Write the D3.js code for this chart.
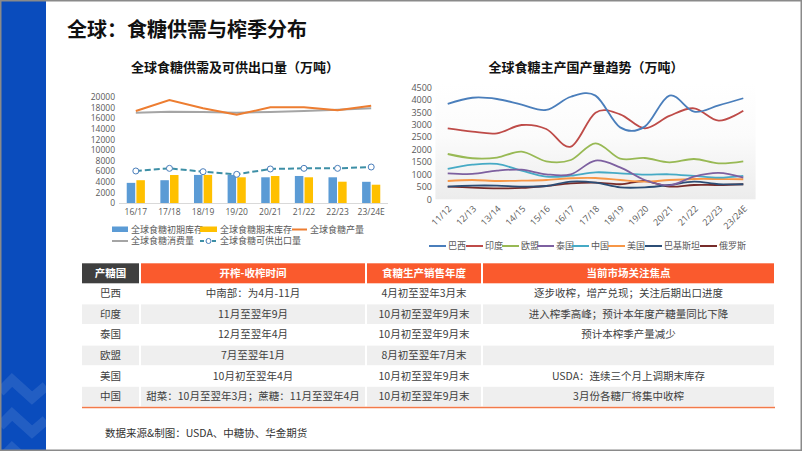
<!DOCTYPE html>
<html><head><meta charset="utf-8">
<script src="https://cdn.jsdelivr.net/npm/d3@7"></script>
<style>
body{margin:0;background:#fff;}
svg{display:block;font-family:"Noto Sans CJK SC","Noto Sans",sans-serif;}
</style>
</head><body><svg id="c" width="802" height="451"></svg>
<script>
// ---------- data ----------
const supplyCats = ["16/17","17/18","18/19","19/20","20/21","21/22","22/23","23/24E"];
const initStock  = [3800,4300,5300,5300,4850,5100,4850,4000];
const endStock   = [4300,5280,5300,4850,5090,4850,4020,3450];
const production = [17360,19430,17860,16660,18050,18050,17490,18360];
const consumption= [17040,17230,17170,17040,17170,17360,17610,17860];
const exportable = [6040,6540,5910,5410,6420,6540,6540,6790];
const supplyTicks = [0,2000,4000,6000,8000,10000,12000,14000,16000,18000,20000];

const prodYears = ["11/12","12/13","13/14","14/15","15/16","16/17","17/18","18/19","19/20","20/21","21/22","22/23","23/24E"];
const brazil   = [3830,4080,4030,3800,3590,4120,4165,2890,2920,4165,3520,3775,4060];
const india    = [2850,2720,2650,2985,2825,2115,3480,3415,2850,3350,3655,3160,3560];
const eu       = [1820,1650,1675,1915,1525,1580,2250,1635,1660,1485,1620,1445,1525];
const thailand = [1045,1020,1150,1190,1005,1005,1555,1285,775,560,910,1060,870];
const china    = [1220,1390,1420,1150,910,950,1085,1045,990,1005,940,870,940];
const usa      = [735,775,735,750,775,845,855,775,710,775,815,815,805];
const pakistan = [510,550,550,510,535,710,670,480,480,575,710,605,605];
const russia   = [510,470,440,455,535,640,670,605,735,510,575,575,605];
const prodTicks = [0,500,1000,1500,2000,2500,3000,3500,4000,4500];
const prodNames = ["巴西","印度","欧盟","泰国","中国","美国","巴基斯坦","俄罗斯"];

const tblHeaders = ["产糖国","开榨-收榨时间","食糖生产销售年度","当前市场关注焦点"];
const tblCountry = ["巴西","印度","泰国","欧盟","美国","中国"];
const tblHarvest = ["中南部：为4月-11月","11月至翌年9月","12月至翌年4月","7月至翌年1月","10月初至翌年4月","甜菜：10月至翌年3月；蔗糖：11月至翌年4月"];
const tblSeason  = ["4月初至翌年3月末","10月初至翌年9月末","10月初至翌年9月末","8月初至翌年7月末","10月初至翌年9月末","10月初至翌年9月末"];
const tblFocus   = ["逐步收榨，增产兑现；关注后期出口进度","进入榨季高峰；预计本年度产糖量同比下降","预计本榨季产量减少","","USDA：连续三个月上调期末库存","3月份各糖厂将集中收榨"];

// ---------- frame ----------
const svg = d3.select("#c");
svg.append("rect").attr("x",0).attr("y",0).attr("width",802).attr("height",451).attr("fill","#fff");
svg.append("rect").attr("x",0).attr("y",0).attr("width",46).attr("height",451).attr("fill","#0a4cbd");
const chev = svg.append("g").attr("fill","none").attr("stroke","#ffffff").attr("stroke-opacity",0.1).attr("stroke-width",10);
[0,34,68].forEach(o=>{
  chev.append("polyline").attr("points",`0,${392+o} 12,${380+o} 32,${398+o} 46,${386+o}`);
});
svg.append("rect").attr("x",0.75).attr("y",0.75).attr("width",800.5).attr("height",449.5)
  .attr("fill","none").attr("stroke","#8a8a8a").attr("stroke-width",1.5);

svg.append("text").attr("x",67).attr("y",37).attr("font-size",20).attr("font-weight",700)
  .attr("fill","#111").text("全球：食糖供需与榨季分布");

// ---------- left chart ----------
svg.append("text").attr("x",235).attr("y",72).attr("text-anchor","middle").attr("font-size",13)
  .attr("font-weight",700).attr("fill","#111").text("全球食糖供需及可供出口量（万吨）");

const xL = d3.scaleBand().domain(supplyCats).range([119,388]).paddingInner(0.46).paddingOuter(0.23);
const xS = d3.scaleBand().domain(["a","b"]).range([0,xL.bandwidth()]).paddingInner(0.12);
const yL = d3.scaleLinear().domain([0,20000]).range([203,97]);
const cx = c => xL(c)+xL.bandwidth()/2;

const gL = svg.append("g");
const yAxL = d3.axisLeft(yL).tickValues(supplyTicks).tickSize(0).tickPadding(0).tickFormat(d3.format("d"));
gL.append("g").attr("transform","translate(115,0)").call(yAxL)
  .call(g=>g.select(".domain").remove())
  .call(g=>g.selectAll("text").attr("font-size",8.5).attr("fill","#595959").attr("font-family","'Open Sans','Noto Sans',sans-serif"));
gL.append("line").attr("x1",119).attr("x2",388).attr("y1",203.5).attr("y2",203.5).attr("stroke","#d9d9d9");
const xAxL = d3.axisBottom(xL).tickSize(0).tickPadding(6);
gL.append("g").attr("transform","translate(0,203)").call(xAxL)
  .call(g=>g.select(".domain").remove())
  .call(g=>g.selectAll("text").attr("font-size",8.5).attr("fill","#595959").attr("font-family","'Open Sans','Noto Sans',sans-serif"));

supplyCats.forEach((c,i)=>{
  gL.append("rect").attr("x",xL(c)+xS("a")).attr("width",xS.bandwidth())
    .attr("y",yL(initStock[i])).attr("height",yL(0)-yL(initStock[i])).attr("fill","#5b9bd5");
  gL.append("rect").attr("x",xL(c)+xS("b")).attr("width",xS.bandwidth())
    .attr("y",yL(endStock[i])).attr("height",yL(0)-yL(endStock[i])).attr("fill","#ffc000");
});
const lineL = arr => d3.line().x((d,i)=>cx(supplyCats[i])).y(d=>yL(d))(arr);
gL.append("path").attr("d",lineL(consumption)).attr("fill","none").attr("stroke","#a5a5a5").attr("stroke-width",2);
gL.append("path").attr("d",lineL(production)).attr("fill","none").attr("stroke","#ed7d31").attr("stroke-width",2);
gL.append("path").attr("d",lineL(exportable)).attr("fill","none").attr("stroke","#3d8fa6").attr("stroke-width",2).attr("stroke-dasharray","6,3");
exportable.forEach((v,i)=>{
  gL.append("circle").attr("cx",cx(supplyCats[i])).attr("cy",yL(v)).attr("r",3)
    .attr("fill","#fff").attr("stroke","#4a7ebb").attr("stroke-width",1);
});

// left legend
const lg = svg.append("g").attr("font-size",9).attr("fill","#595959");
function legText(x,y,t){ lg.append("text").attr("x",x).attr("y",y).attr("dy","0.35em").text(t); }
lg.append("rect").attr("x",112).attr("y",226.5).attr("width",16).attr("height",5.5).attr("fill","#5b9bd5");
legText(131,229.5,"全球食糖初期库存");
lg.append("rect").attr("x",200).attr("y",226.5).attr("width",17).attr("height",5.5).attr("fill","#ffc000");
legText(220,229.5,"全球食糖期末库存");
lg.append("line").attr("x1",292).attr("x2",307).attr("y1",229.5).attr("y2",229.5).attr("stroke","#ed7d31").attr("stroke-width",2);
legText(310,229.5,"全球食糖产量");
lg.append("line").attr("x1",112).attr("x2",128).attr("y1",241).attr("y2",241).attr("stroke","#a5a5a5").attr("stroke-width",2);
legText(131,241,"全球食糖消费量");
lg.append("line").attr("x1",200).attr("x2",217).attr("y1",241).attr("y2",241).attr("stroke","#3d8fa6").attr("stroke-width",2).attr("stroke-dasharray","4,2");
lg.append("circle").attr("cx",208.5).attr("cy",241).attr("r",2.5).attr("fill","#fff").attr("stroke","#4a7ebb");
legText(220,241,"全球食糖可供出口量");

// ---------- right chart ----------
svg.append("text").attr("x",586).attr("y",72).attr("text-anchor","middle").attr("font-size",13)
  .attr("font-weight",700).attr("fill","#111").text("全球食糖主产国产量趋势（万吨）");

const xR = d3.scalePoint().domain(prodYears).range([435.4,755.6]).padding(0.5);
const yR = d3.scaleLinear().domain([0,4500]).range([199.3,87.3]);
const defs = svg.append("defs");
const grad = defs.append("linearGradient").attr("id","bg").attr("x1",0).attr("x2",0).attr("y1",0).attr("y2",1);
grad.append("stop").attr("offset","0%").attr("stop-color","#ffffff");
grad.append("stop").attr("offset","45%").attr("stop-color","#fbfbfb");
grad.append("stop").attr("offset","100%").attr("stop-color","#ececec");
svg.append("rect").attr("x",435.4).attr("y",84).attr("width",320.2).attr("height",115.3).attr("fill","url(#bg)");

const gR = svg.append("g");
gR.append("g").attr("transform","translate(432,0)")
  .call(d3.axisLeft(yR).tickValues(prodTicks).tickSize(0).tickPadding(0).tickFormat(d3.format("d")))
  .call(g=>g.select(".domain").remove())
  .call(g=>g.selectAll("text").attr("font-size",9).attr("fill","#595959").attr("font-family","'Open Sans','Noto Sans',sans-serif"));
gR.append("g").attr("transform","translate(0,199.3)")
  .call(d3.axisBottom(xR).tickSize(0).tickPadding(0))
  .call(g=>g.select(".domain").remove())
  .call(g=>g.selectAll("text").attr("font-size",9).attr("fill","#595959")
    .attr("font-family","'Open Sans','Noto Sans',sans-serif")
    .attr("text-anchor","end").attr("dy",0).attr("y",0)
    .attr("transform","translate(4,10) rotate(-45)"));

const prodSeries = [brazil,india,eu,thailand,china,usa,pakistan,russia];
const prodColors = ["#4a7ebb","#be4b48","#98b954","#7d60a0","#46aac5","#f79646","#2c4d75","#772c2a"];
const lineR = d3.line().x((d,i)=>xR(prodYears[i])).y(d=>yR(d)).curve(d3.curveCardinal.tension(0));
prodSeries.slice().reverse().forEach((s,k)=>{
  const i = prodSeries.length-1-k;
  gR.append("path").attr("d",lineR(s)).attr("fill","none").attr("stroke",prodColors[i]).attr("stroke-width",1.8);
});

// right legend
const legX = [429,466,502,537,572,608,645,700];
const rg = svg.append("g").attr("font-size",9).attr("fill","#595959");
prodNames.forEach((n,i)=>{
  rg.append("line").attr("x1",legX[i]).attr("x2",legX[i]+17).attr("y1",246).attr("y2",246)
    .attr("stroke",prodColors[i]).attr("stroke-width",2);
  rg.append("text").attr("x",legX[i]+19).attr("y",246).attr("dy","0.35em").text(n);
});

// ---------- table ----------
const colX = [82,140,366,482,775];
const headTop = 263.3, headH = 20, rowH = 20.6;
const tg = svg.append("g").attr("font-size",10.5);
tblHeaders.forEach((h,j)=>{
  const x0 = colX[j] + (j>0?1:0), x1 = colX[j+1] - 1;
  tg.append("rect").attr("x",x0).attr("y",headTop).attr("width",x1-x0).attr("height",headH)
    .attr("fill", j===0 ? "#3f3f3f" : "#fa5a2d");
  tg.append("text").attr("x",(x0+x1)/2).attr("y",headTop+headH/2).attr("dy","0.35em")
    .attr("text-anchor","middle").attr("fill","#fff").attr("font-weight",700).text(h);
});
const rows = tblCountry.map((c,i)=>[c,tblHarvest[i],tblSeason[i],tblFocus[i]]);
rows.forEach((r,i)=>{
  const y0 = headTop+headH+i*rowH;
  r.forEach((t,j)=>{
    const x0 = colX[j] + (j>0?1:0), x1 = colX[j+1] - 1;
    if(i%2===1) tg.append("rect").attr("x",x0).attr("y",y0+0.5).attr("width",x1-x0).attr("height",rowH-1).attr("fill","#efefef");
    tg.append("text").attr("x",(x0+x1)/2).attr("y",y0+rowH/2).attr("dy","0.35em")
      .attr("text-anchor","middle").attr("fill","#404040").text(t);
  });
});
tg.append("line").attr("x1",82).attr("x2",775).attr("y1",407.5).attr("y2",407.5).attr("stroke","#f27a4a").attr("stroke-width",1.5);

svg.append("text").attr("x",105).attr("y",433).attr("dy","0.35em").attr("font-size",10.5).attr("fill","#333")
  .text("数据来源&制图：USDA、中糖协、华金期货");
</script>
</body></html>
